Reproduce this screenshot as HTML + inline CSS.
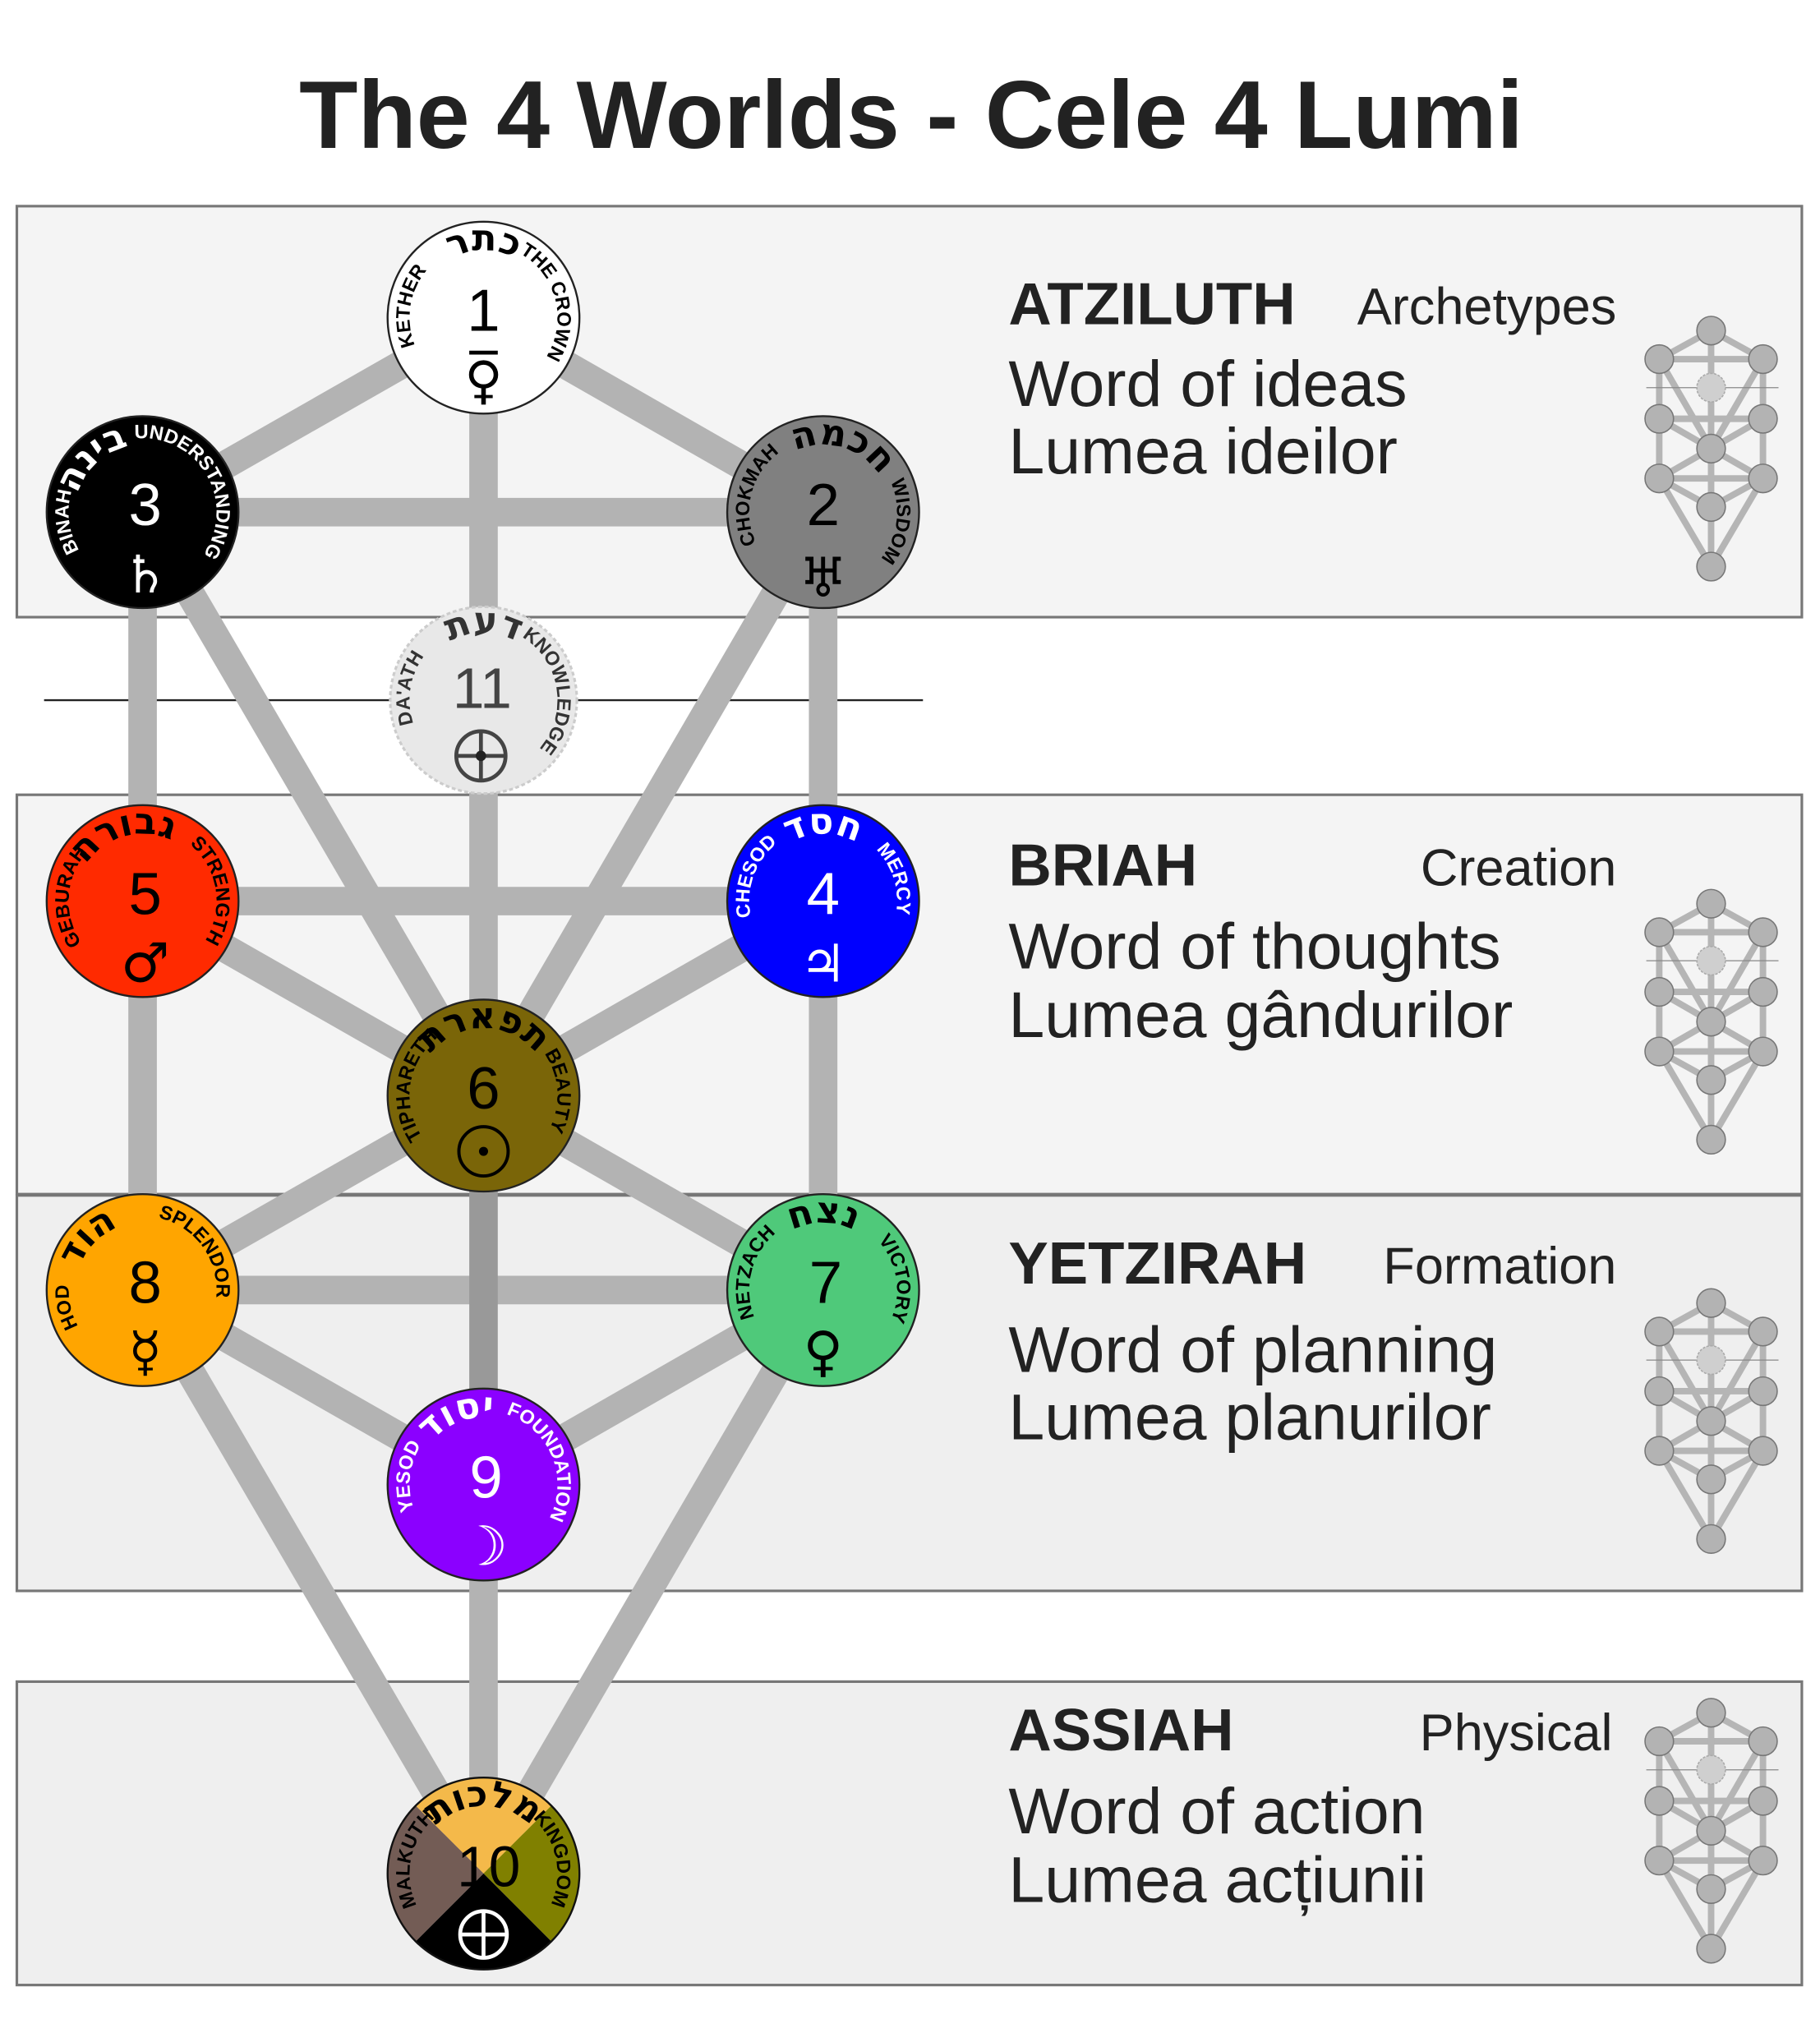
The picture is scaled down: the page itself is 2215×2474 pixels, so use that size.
<!DOCTYPE html>
<html><head><meta charset="utf-8"><style>
html,body{margin:0;padding:0;background:#fff}
svg{display:block}
text{font-family:"Liberation Sans","DejaVu Sans",sans-serif}
.sym{font-family:"DejaVu Sans",sans-serif}
.heb{font-family:"DejaVu Sans",sans-serif;font-size:28px;font-weight:bold}
</style></head><body>
<svg width="2215" height="2474" viewBox="0 0 1404 1568" preserveAspectRatio="none" xmlns="http://www.w3.org/2000/svg">
<defs>
<g id="mini">
 <g stroke="#b5b5b5" stroke-width="5" fill="none">
  <line x1="0" y1="0" x2="-40" y2="22"/><line x1="0" y1="0" x2="40" y2="22"/>
  <line x1="-40" y1="22" x2="40" y2="22"/><line x1="0" y1="0" x2="0" y2="91"/>
  <line x1="-40" y1="22" x2="-40" y2="114"/><line x1="40" y1="22" x2="40" y2="114"/>
  <line x1="-40" y1="22" x2="0" y2="91"/><line x1="40" y1="22" x2="0" y2="91"/>
  <line x1="-40" y1="68" x2="40" y2="68"/><line x1="-40" y1="68" x2="0" y2="91"/><line x1="40" y1="68" x2="0" y2="91"/>
  <line x1="-40" y1="114" x2="40" y2="114"/><line x1="-40" y1="114" x2="0" y2="91"/><line x1="40" y1="114" x2="0" y2="91"/>
  <line x1="0" y1="91" x2="0" y2="182"/><line x1="-40" y1="114" x2="0" y2="136"/><line x1="40" y1="114" x2="0" y2="136"/>
  <line x1="-40" y1="114" x2="0" y2="182"/><line x1="40" y1="114" x2="0" y2="182"/>
 </g>
 <line x1="-50" y1="44" x2="52" y2="44" stroke="#888" stroke-width="0.8"/>
 <g fill="#b3b3b3" stroke="#777" stroke-width="1">
  <circle cx="0" cy="0" r="11"/><circle cx="-40" cy="22" r="11"/><circle cx="40" cy="22" r="11"/>
  <circle cx="-40" cy="68" r="11"/><circle cx="40" cy="68" r="11"/><circle cx="0" cy="91" r="11"/>
  <circle cx="-40" cy="114" r="11"/><circle cx="40" cy="114" r="11"/><circle cx="0" cy="136" r="11"/>
  <circle cx="0" cy="182" r="11"/>
 </g>
 <circle cx="0" cy="44" r="11" fill="#cfcfcf" stroke="#aaa" stroke-dasharray="2 1"/>
</g>
<!-- arcs: l = latin r=57, h = hebrew r=52 -->
<path id="l1" d="M332.7,285.3 A57,57 0 1 1 413.3,285.3"/><path id="h1" d="M336.2,281.8 A52,52 0 1 1 409.8,281.8"/>
<path id="l3" d="M69.7,435.3 A57,57 0 1 1 150.3,435.3"/><path id="h3" d="M73.2,431.8 A52,52 0 1 1 146.8,431.8"/>
<path id="l2" d="M594.7,435.3 A57,57 0 1 1 675.3,435.3"/><path id="h2" d="M598.2,431.8 A52,52 0 1 1 671.8,431.8"/>
<path id="l11" d="M332.7,580.3 A57,57 0 1 1 413.3,580.3"/><path id="h11" d="M336.2,576.8 A52,52 0 1 1 409.8,576.8"/>
<path id="l5" d="M69.7,735.3 A57,57 0 1 1 150.3,735.3"/><path id="h5" d="M73.2,731.8 A52,52 0 1 1 146.8,731.8"/>
<path id="l4" d="M594.7,735.3 A57,57 0 1 1 675.3,735.3"/><path id="h4" d="M598.2,731.8 A52,52 0 1 1 671.8,731.8"/>
<path id="l6" d="M332.7,885.3 A57,57 0 1 1 413.3,885.3"/><path id="h6" d="M336.2,881.8 A52,52 0 1 1 409.8,881.8"/>
<path id="l8" d="M69.7,1035.3 A57,57 0 1 1 150.3,1035.3"/><path id="h8" d="M73.2,1031.8 A52,52 0 1 1 146.8,1031.8"/>
<path id="l7" d="M594.7,1035.3 A57,57 0 1 1 675.3,1035.3"/><path id="h7" d="M598.2,1031.8 A52,52 0 1 1 671.8,1031.8"/>
<path id="l9" d="M332.7,1185.3 A57,57 0 1 1 413.3,1185.3"/><path id="h9" d="M336.2,1181.8 A52,52 0 1 1 409.8,1181.8"/>
<path id="l10" d="M332.7,1485.3 A57,57 0 1 1 413.3,1485.3"/><path id="h10" d="M336.2,1481.8 A52,52 0 1 1 409.8,1481.8"/>
</defs>

<text x="703" y="114" text-anchor="middle" font-size="74" font-weight="bold" fill="#222">The 4 Worlds - Cele 4 Lumi</text>

<rect x="13" y="159" width="1377" height="317" fill="#f4f4f4" stroke="#777" stroke-width="2"/>
<rect x="13" y="613" width="1377" height="308" fill="#f4f4f4" stroke="#777" stroke-width="2"/>
<rect x="13" y="922" width="1377" height="305" fill="#efefef" stroke="#777" stroke-width="2"/>
<rect x="13" y="1297" width="1377" height="234" fill="#efefef" stroke="#777" stroke-width="2"/>

<line x1="34" y1="540" x2="712" y2="540" stroke="#222" stroke-width="1.5"/>

<g stroke="#b3b3b3" stroke-width="22" stroke-linecap="butt">
 <line x1="373" y1="245" x2="110" y2="395"/><line x1="373" y1="245" x2="635" y2="395"/>
 <line x1="373" y1="245" x2="373" y2="845"/><line x1="110" y1="395" x2="635" y2="395"/>
 <line x1="110" y1="395" x2="110" y2="995"/><line x1="635" y1="395" x2="635" y2="995"/>
 <line x1="110" y1="395" x2="373" y2="845"/><line x1="635" y1="395" x2="373" y2="845"/>
 <line x1="110" y1="695" x2="635" y2="695"/><line x1="110" y1="695" x2="373" y2="845"/><line x1="635" y1="695" x2="373" y2="845"/>
 <line x1="110" y1="995" x2="373" y2="845"/><line x1="635" y1="995" x2="373" y2="845"/>
 <line x1="110" y1="995" x2="635" y2="995"/><line x1="110" y1="995" x2="373" y2="1145"/><line x1="635" y1="995" x2="373" y2="1145"/>
 <line x1="110" y1="995" x2="373" y2="1445"/><line x1="635" y1="995" x2="373" y2="1445"/>
 <line x1="373" y1="1145" x2="373" y2="1445"/>
</g>
<line x1="373" y1="845" x2="373" y2="1145" stroke="#999" stroke-width="22"/>

<g font-size="15" font-weight="bold">
 <!-- 1 -->
 <circle cx="373" cy="245" r="74" fill="#fff" stroke="#222" stroke-width="1.5"/>
 <text><textPath href="#l1" startOffset="20%" text-anchor="middle">KETHER</textPath></text>
 <text class="heb"><textPath href="#h1" startOffset="50%" text-anchor="middle">כתר</textPath></text>
 <text><textPath href="#l1" startOffset="78%" text-anchor="middle">THE CROWN</textPath></text>
 <text x="373" y="255" text-anchor="middle" font-size="46" font-weight="normal">1</text>
 <text x="373" y="307" text-anchor="middle" font-size="40" font-weight="normal" class="sym">♀</text>
 <line x1="362" y1="272" x2="384" y2="272" stroke="#000" stroke-width="3"/>

 <!-- 3 -->
 <circle cx="110" cy="395" r="74" fill="#000" stroke="#222" stroke-width="1.5"/>
 <text fill="#fff"><textPath href="#l3" startOffset="14%" text-anchor="middle">BINAH</textPath></text>
 <text class="heb" fill="#fff"><textPath href="#h3" startOffset="34%" text-anchor="middle">בינה</textPath></text>
 <text fill="#fff"><textPath href="#l3" startOffset="72%" text-anchor="middle">UNDERSTANDING</textPath></text>
 <text x="112" y="405" text-anchor="middle" font-size="46" font-weight="normal" fill="#fff">3</text>
 <text x="112" y="457" text-anchor="middle" font-size="40" font-weight="normal" fill="#fff" class="sym">♄</text>

 <!-- 2 -->
 <circle cx="635" cy="395" r="74" fill="#808080" stroke="#222" stroke-width="1.5"/>
 <text><textPath href="#l2" startOffset="22%" text-anchor="middle">CHOKMAH</textPath></text>
 <text class="heb"><textPath href="#h2" startOffset="56%" text-anchor="middle">חכמה</textPath></text>
 <text><textPath href="#l2" startOffset="86%" text-anchor="middle">WISDOM</textPath></text>
 <text x="635" y="405" text-anchor="middle" font-size="46" font-weight="normal">2</text>
 <text x="635" y="460" text-anchor="middle" font-size="42" font-weight="normal" class="sym">♅</text>

 <!-- 11 -->
 <circle cx="373" cy="540" r="72" fill="#e8e8e8" stroke="#ccc" stroke-width="2" stroke-dasharray="3 2"/>
 <text fill="#333"><textPath href="#l11" startOffset="20%" text-anchor="middle">DA'ATH</textPath></text>
 <text class="heb" fill="#333"><textPath href="#h11" startOffset="50%" text-anchor="middle">דעת</textPath></text>
 <text fill="#333"><textPath href="#l11" startOffset="80%" text-anchor="middle">KNOWLEDGE</textPath></text>
 <text x="372" y="546" text-anchor="middle" font-size="44" font-weight="normal" fill="#444">11</text>
 <circle cx="371" cy="583" r="19" fill="none" stroke="#444" stroke-width="3"/>
 <line x1="371" y1="564" x2="371" y2="602" stroke="#444" stroke-width="3"/>
 <line x1="352" y1="583" x2="390" y2="583" stroke="#444" stroke-width="3"/>
 <circle cx="371" cy="583" r="4" fill="#222"/>

 <!-- 5 -->
 <circle cx="110" cy="695" r="74" fill="#ff2a00" stroke="#222" stroke-width="1.5"/>
 <text><textPath href="#l5" startOffset="18%" text-anchor="middle">GEBURAH</textPath></text>
 <text class="heb"><textPath href="#h5" startOffset="44%" text-anchor="middle">גבורה</textPath></text>
 <text><textPath href="#l5" startOffset="80%" text-anchor="middle">STRENGTH</textPath></text>
 <text x="112" y="705" text-anchor="middle" font-size="46" font-weight="normal">5</text>
 <text x="112" y="757" text-anchor="middle" font-size="42" font-weight="normal" class="sym">♂</text>

 <!-- 4 -->
 <circle cx="635" cy="695" r="74" fill="#0000ff" stroke="#222" stroke-width="1.5"/>
 <text fill="#fff"><textPath href="#l4" startOffset="24%" text-anchor="middle">CHESOD</textPath></text>
 <text class="heb" fill="#fff"><textPath href="#h4" startOffset="50%" text-anchor="middle">חסד</textPath></text>
 <text fill="#fff"><textPath href="#l4" startOffset="77%" text-anchor="middle">MERCY</textPath></text>
 <text x="635" y="705" text-anchor="middle" font-size="46" font-weight="normal" fill="#fff">4</text>
 <text x="635" y="757" text-anchor="middle" font-size="40" font-weight="normal" fill="#fff" class="sym">♃</text>

 <!-- 6 -->
 <circle cx="373" cy="845" r="74" fill="#7a6508" stroke="#222" stroke-width="1.5"/>
 <text><textPath href="#l6" startOffset="20%" text-anchor="middle">TIPHARETH</textPath></text>
 <text class="heb"><textPath href="#h6" startOffset="50%" text-anchor="middle">תפארת</textPath></text>
 <text><textPath href="#l6" startOffset="82%" text-anchor="middle">BEAUTY</textPath></text>
 <text x="373" y="855" text-anchor="middle" font-size="46" font-weight="normal">6</text>
 <circle cx="373" cy="888" r="19" fill="none" stroke="#000" stroke-width="2.5"/>
 <circle cx="373" cy="888" r="3.5" fill="#000"/>

 <!-- 8 -->
 <circle cx="110" cy="995" r="74" fill="#ffa500" stroke="#222" stroke-width="1.5"/>
 <text><textPath href="#l8" startOffset="12%" text-anchor="middle">HOD</textPath></text>
 <text class="heb"><textPath href="#h8" startOffset="33%" text-anchor="middle">הוד</textPath></text>
 <text><textPath href="#l8" startOffset="70%" text-anchor="middle">SPLENDOR</textPath></text>
 <text x="112" y="1005" text-anchor="middle" font-size="46" font-weight="normal">8</text>
 <text x="112" y="1057" text-anchor="middle" font-size="42" font-weight="normal" class="sym">☿</text>

 <!-- 7 -->
 <circle cx="635" cy="995" r="74" fill="#4fc97a" stroke="#222" stroke-width="1.5"/>
 <text><textPath href="#l7" startOffset="22%" text-anchor="middle">NETZACH</textPath></text>
 <text class="heb"><textPath href="#h7" startOffset="50%" text-anchor="middle">נצח</textPath></text>
 <text><textPath href="#l7" startOffset="80%" text-anchor="middle">VICTORY</textPath></text>
 <text x="637" y="1005" text-anchor="middle" font-size="46" font-weight="normal">7</text>
 <text x="635" y="1057" text-anchor="middle" font-size="42" font-weight="normal" class="sym">♀</text>

 <!-- 9 -->
 <circle cx="373" cy="1145" r="74" fill="#8b00ff" stroke="#222" stroke-width="1.5"/>
 <text fill="#fff"><textPath href="#l9" startOffset="19%" text-anchor="middle">YESOD</textPath></text>
 <text class="heb" fill="#fff"><textPath href="#h9" startOffset="42%" text-anchor="middle">יסוד</textPath></text>
 <text fill="#fff"><textPath href="#l9" startOffset="75%" text-anchor="middle">FOUNDATION</textPath></text>
 <text x="375" y="1155" text-anchor="middle" font-size="46" font-weight="normal" fill="#fff">9</text>
 <text x="373" y="1207" text-anchor="middle" font-size="42" font-weight="normal" fill="#fff" class="sym">☽</text>

 <!-- 10 -->
 <path d="M373,1445 L320.7,1392.7 A74,74 0 0 1 425.3,1392.7 Z" fill="#f4b94a"/>
 <path d="M373,1445 L425.3,1392.7 A74,74 0 0 1 425.3,1497.3 Z" fill="#808000"/>
 <path d="M373,1445 L425.3,1497.3 A74,74 0 0 1 320.7,1497.3 Z" fill="#000"/>
 <path d="M373,1445 L320.7,1497.3 A74,74 0 0 1 320.7,1392.7 Z" fill="#735c55"/>
 <circle cx="373" cy="1445" r="74" fill="none" stroke="#111" stroke-width="1.5"/>
 <text><textPath href="#l10" startOffset="21%" text-anchor="middle">MALKUTH</textPath></text>
 <text class="heb"><textPath href="#h10" startOffset="50%" text-anchor="middle">מלכות</textPath></text>
 <text><textPath href="#l10" startOffset="79%" text-anchor="middle">KINGDOM</textPath></text>
 <text x="377" y="1455" text-anchor="middle" font-size="44" font-weight="normal">10</text>
 <circle cx="373" cy="1492" r="18" fill="none" stroke="#fff" stroke-width="3"/>
 <line x1="373" y1="1474" x2="373" y2="1510" stroke="#fff" stroke-width="3"/>
 <line x1="355" y1="1492" x2="391" y2="1492" stroke="#fff" stroke-width="3"/>
</g>

<g fill="#222">
 <text x="778" y="250" font-size="46" font-weight="bold">ATZILUTH</text>
 <text x="1247" y="250" font-size="40" text-anchor="end">Archetypes</text>
 <text x="778" y="313" font-size="50">Word of ideas</text>
 <text x="778" y="365" font-size="50">Lumea ideilor</text>

 <text x="778" y="683" font-size="46" font-weight="bold">BRIAH</text>
 <text x="1247" y="683" font-size="40" text-anchor="end">Creation</text>
 <text x="778" y="747" font-size="50">Word of thoughts</text>
 <text x="778" y="800" font-size="50">Lumea gândurilor</text>

 <text x="778" y="990" font-size="46" font-weight="bold">YETZIRAH</text>
 <text x="1247" y="990" font-size="40" text-anchor="end">Formation</text>
 <text x="778" y="1058" font-size="50">Word of planning</text>
 <text x="778" y="1110" font-size="50">Lumea planurilor</text>

 <text x="778" y="1350" font-size="46" font-weight="bold">ASSIAH</text>
 <text x="1244" y="1350" font-size="40" text-anchor="end">Physical</text>
 <text x="778" y="1414" font-size="50">Word of action</text>
 <text x="778" y="1467" font-size="50">Lumea acțiunii</text>
</g>

<use href="#mini" x="1320" y="255"/>
<use href="#mini" x="1320" y="697"/>
<use href="#mini" x="1320" y="1005"/>
<use href="#mini" x="1320" y="1321"/>
</svg>
</body></html>
